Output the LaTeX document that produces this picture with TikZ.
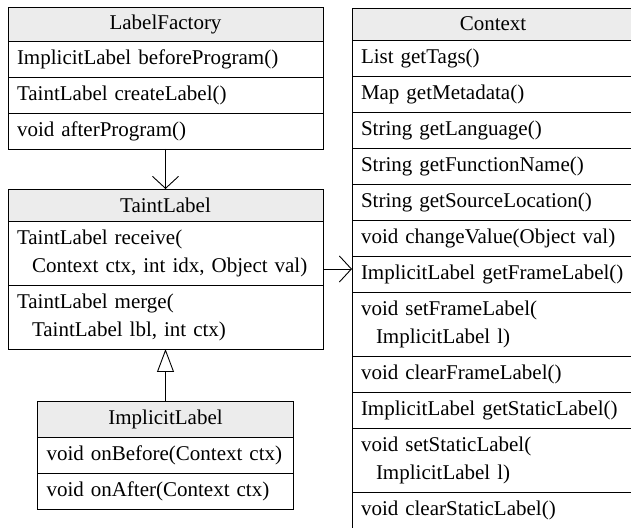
\documentclass[tikz,border=0pt]{standalone}
\usepackage{fontspec}
\setmainfont{Liberation Serif}
\usepackage{tikz}
\usetikzlibrary{positioning, arrows.meta}

\newcommand{\umlfont}{\fontsize{21}{28}\selectfont}
\newcommand{\ind}{\hspace*{15pt}}

\begin{document}
\begin{tikzpicture}[x=1pt, y=1pt, line width=0.9pt,
    hdr/.style={draw, fill=gray!15, minimum width=#1, minimum height=32pt,
        inner sep=0pt, outer sep=0pt, font=\umlfont},
    mem/.style={draw, fill=white, text width=#1, align=left, inner xsep=9pt,
        inner ysep=4pt, outer sep=0pt, font=\umlfont,
        execute at begin node=\strut, execute at end node=\strut},
    dep/.style={-{Straight Barb[length=12pt, width=26pt]}},
    gen/.style={-{Triangle[open, length=23pt, width=17pt]}}]
    \path[use as bounding box, clip] (0,0) rectangle (631,527);

    % LabelFactory
    \node[hdr=315pt, minimum height=34pt, anchor=north west] (lf) at (8,520) {LabelFactory};
    \node[mem=297pt, below=0pt of lf] (lf1) {ImplicitLabel beforeProgram()};
    \node[mem=297pt, below=0pt of lf1] (lf2) {TaintLabel createLabel()};
    \node[mem=297pt, below=0pt of lf2] (lf3) {void afterProgram()};

    % TaintLabel
    \node[hdr=315pt, below=40pt of lf3] (tl) {TaintLabel};
    \node[mem=297pt, below=0pt of tl] (tl1) {TaintLabel receive(\\\ind Context ctx, int idx, Object val)};
    \node[mem=297pt, below=0pt of tl1] (tl2) {TaintLabel merge(\\\ind TaintLabel lbl, int ctx)};

    % ImplicitLabel
    \node[hdr=256pt, minimum height=36pt, below=52pt of tl2] (il) {ImplicitLabel};
    \node[mem=238pt, below=0pt of il] (il1) {void onBefore(Context ctx)};
    \node[mem=238pt, below=0pt of il1] (il2) {void onAfter(Context ctx)};

    % Context
    \node[hdr=282pt, anchor=north west] (ctx0) at (352,519) {Context};
    \foreach \txt [count=\i, remember=\i as \j (initially 0)] in {
        List getTags(), Map getMetadata(), String getLanguage(),
        String getFunctionName(), String getSourceLocation(),
        void changeValue(Object val), ImplicitLabel getFrameLabel(),
        {void setFrameLabel(\\\ind ImplicitLabel l)}, void clearFrameLabel(),
        ImplicitLabel getStaticLabel(),
        {void setStaticLabel(\\\ind ImplicitLabel l)}, void clearStaticLabel()} {
        \node[mem=264pt, below=0pt of ctx\j] (ctx\i) {\txt};
    }

    % arrows between the classes
    \coordinate (recv) at ([yshift=16pt]tl1.south east);
    \draw[dep] (lf3.south) -- (tl.north);
    \draw[dep] (recv) -- (recv -| ctx7.west);
    \draw[gen] (il.north) -- (tl2.south);
\end{tikzpicture}
\end{document}
